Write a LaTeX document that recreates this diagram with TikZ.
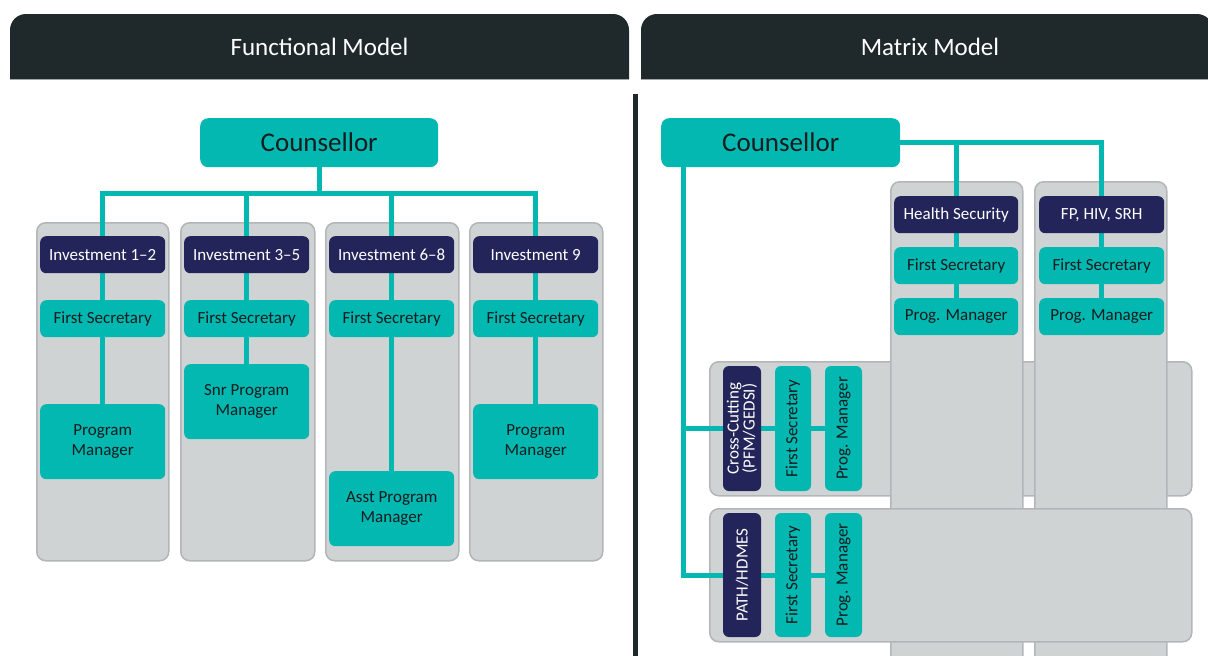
\documentclass[tikz,border=0pt]{standalone}
\usepackage{fontspec}
\setmainfont{Carlito}
\definecolor{teal0}{HTML}{02B8B1}
\definecolor{navy0}{HTML}{23245A}
\definecolor{grey0}{HTML}{D0D3D4}
\definecolor{greyb}{HTML}{B3B6B8}
\definecolor{hdr}{HTML}{1F292B}
\definecolor{txt}{HTML}{141C1E}
\pgfdeclarelayer{bg}
\pgfdeclarelayer{lines}
\pgfsetlayers{bg,lines,main}
\tikzset{
  base/.style={rounded corners=6pt, inner sep=0pt, align=center, font=\fontsize{17}{20}\selectfont},
  tealbox/.style={base, fill=teal0, text=txt},
  navybox/.style={base, fill=navy0, text=white},
  nw/.style={anchor=north west},
  counsel/.style={tealbox, rounded corners=8pt, font=\fontsize{27}{30}\selectfont, minimum width=238pt, minimum height=49pt, anchor=north west},
  greybox/.style={draw=greyb, line width=1.5pt, fill=grey0, rounded corners=9pt, inner sep=0pt, anchor=north west},
  conn/.style={draw=teal0, line width=5pt},
  hdrtext/.style={text=white, font=\fontsize{25}{28}\selectfont},
  rot/.style={rotate=90, font=\fontsize{17}{16}\selectfont},
}
\begin{document}
\begin{tikzpicture}[x=1pt, y=-1pt]
\useasboundingbox (0,0) rectangle (1208,656);
% headers
\fill[hdr] (10,79) [rounded corners=16pt] -- (10,14) -- (629,14) [sharp corners] -- (629,79) -- cycle;
\fill[hdr] (641,79) [rounded corners=16pt] -- (641,14) -- (1213,14) [sharp corners] -- (1213,79) -- cycle;
\draw[gray!70, line width=1pt] (10,79) -- (629,79) (641,79) -- (1213,79);
\node[hdrtext] (h1) at (319.5,47) {Functional Model};
\node[hdrtext] (h2) at (930,47) {Matrix Model};
% divider
\draw[hdr, line width=5pt] (635,94) -- (635,660);

% ---------- Functional model ----------
\node[counsel] (cl) at (200,118) {Counsellor};
\begin{pgfonlayer}{bg}
\node[greybox, minimum width=132pt, minimum height=338pt] (c1) at (36,222) {};
\node[greybox, minimum width=134pt, minimum height=338pt] (c2) at (180,222) {};
\node[greybox, minimum width=133pt, minimum height=338pt] (c3) at (325,222) {};
\node[greybox, minimum width=133pt, minimum height=338pt] (c4) at (469,222) {};
\end{pgfonlayer}
\foreach \n/\x/\t in {1/40/{Investment 1–2},2/184/{Investment 3–5},3/329/{Investment 6–8},4/473/{Investment 9}}{
  \node[navybox, nw, minimum width=125pt, minimum height=37pt] (inv\n) at (\x,236) {\t};
  \node[tealbox, nw, minimum width=125pt, minimum height=37pt] (fs\n) at (\x,300) {First Secretary};
}
\node[tealbox, nw, minimum width=125pt, minimum height=75pt] (pm1) at (40,404) {Program\\Manager};
\node[tealbox, nw, minimum width=125pt, minimum height=75pt] (pm2) at (184,364) {Snr Program\\Manager};
\node[tealbox, nw, minimum width=125pt, minimum height=75pt] (pm3) at (329,471) {Asst Program\\Manager};
\node[tealbox, nw, minimum width=125pt, minimum height=75pt] (pm4) at (473,404) {Program\\Manager};
\coordinate (hl) at (319,193);
\begin{pgfonlayer}{lines}
\draw[conn] (cl.south) -- (cl.south |- hl);
\draw[conn] (inv1.north) -- (inv1.north |- hl) -- (inv4.north |- hl) -- (inv4.north);
\draw[conn] (inv2.north) -- (inv2.north |- hl);
\draw[conn] (inv3.north) -- (inv3.north |- hl);
\foreach \n in {1,2,3,4}{ \draw[conn] (inv\n) -- (fs\n) -- (pm\n); }
\end{pgfonlayer}

% ---------- Matrix model ----------
\node[counsel, minimum width=239pt] (cr) at (661,118) {Counsellor};
\begin{pgfonlayer}{bg}
\node[greybox, minimum width=482pt, minimum height=134pt] (rowx) at (709,361) {};
\node[greybox, minimum width=132pt, minimum height=520pt] (colh) at (890,181) {};
\node[greybox, minimum width=132pt, minimum height=520pt] (colf) at (1034,181) {};
\node[greybox, minimum width=482pt, minimum height=133pt] (rowp) at (709,508) {};
\end{pgfonlayer}
\node[navybox, nw, minimum width=124pt, minimum height=37pt] (hs) at (894,196) {Health Security};
\node[tealbox, nw, minimum width=124pt, minimum height=37pt] (hfs) at (894,247) {First Secretary};
\node[tealbox, nw, minimum width=124pt, minimum height=37pt] (hpm) at (894,298) {Prog. Manager};
\node[navybox, nw, minimum width=125pt, minimum height=37pt] (fp) at (1039,196) {FP, HIV, SRH};
\node[tealbox, nw, minimum width=125pt, minimum height=37pt] (ffs) at (1039,247) {First Secretary};
\node[tealbox, nw, minimum width=125pt, minimum height=37pt] (fpm) at (1039,298) {Prog. Manager};

\node[navybox, rot, minimum width=125pt, minimum height=38pt] (cn) at (742,428.5) {Cross-Cutting\\(PFM/GEDSI)};
\node[tealbox, rot, minimum width=125pt, minimum height=36pt] (cfs) at (793,428.5) {First Secretary};
\node[tealbox, rot, minimum width=125pt, minimum height=37pt] (cpm) at (843.5,428.5) {Prog. Manager};
\node[navybox, rot, minimum width=124pt, minimum height=38pt] (pn) at (742,575) {PATH/HDMES};
\node[tealbox, rot, minimum width=124pt, minimum height=36pt] (pfs) at (793,575) {First Secretary};
\node[tealbox, rot, minimum width=124pt, minimum height=37pt] (ppm) at (843.5,575) {Prog. Manager};

\coordinate (ltop) at (683,160);
\begin{pgfonlayer}{lines}
\draw[conn] (cr.east) -- (fp.north |- cr.east) -- (fp.north);
\draw[conn] (hs.north |- cr.east) -- (hs.north);
\draw[conn] (hs) -- (hfs) -- (hpm);
\draw[conn] (fp) -- (ffs) -- (fpm);
\draw[conn] (ltop) |- (pn);
\draw[conn] (ltop |- cn) -- (cn);
\draw[conn] (cn) -- (cfs) -- (cpm);
\draw[conn] (pn) -- (pfs) -- (ppm);
\end{pgfonlayer}
\end{tikzpicture}
\end{document}
